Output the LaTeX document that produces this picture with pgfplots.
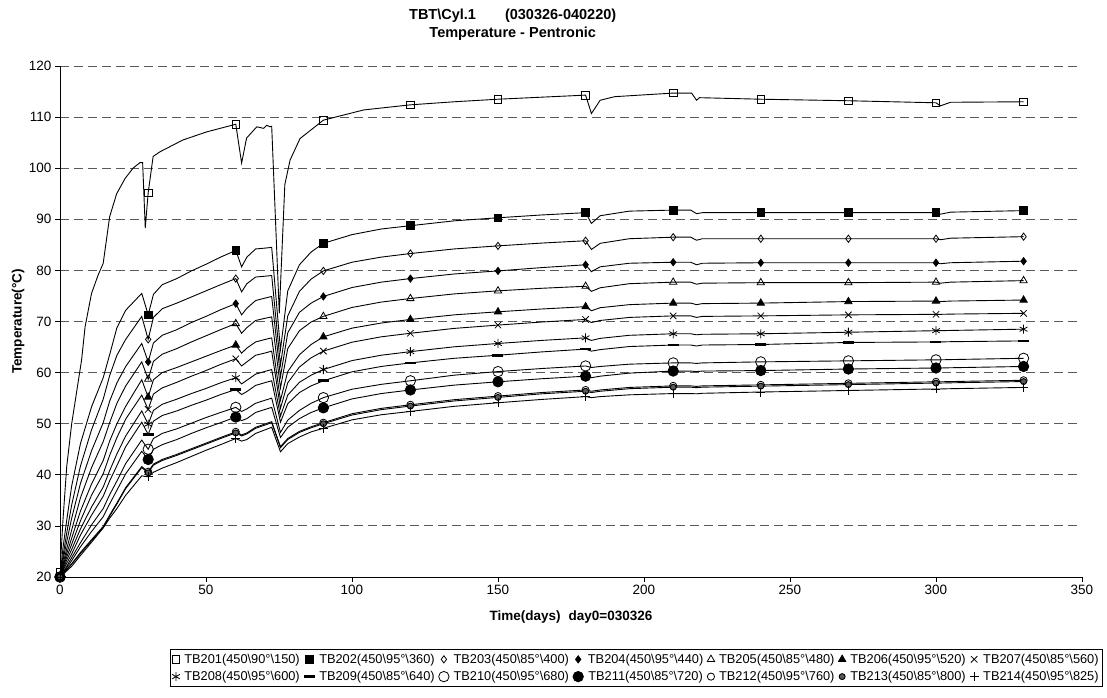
\documentclass[border=0pt]{standalone}
\usepackage{pgfplots}
\pgfplotsset{compat=1.18}
\usepackage{pgfplotstable}
\usepackage{fontspec}
\setmainfont{Liberation Sans}
\begin{document}
\pgfplotstableread{
d t202 t203 t204 t205 t206 t207 t208 t209 t210 t211 t212 t213 t214
0 20 20 20 20 20 20 20 20 20 20 20 20 20
1 25.6 24.0 23.2 22.5 22.1 21.8 21.5 21.2 20.9 20.8 20.6 20.6 20.5
2.3 31.1 28.6 26.9 25.5 24.6 23.9 23.3 22.7 22.1 21.8 21.5 21.4 21.2
4 37.8 34.1 31.5 29.2 27.6 26.4 25.4 24.5 23.8 23.2 22.6 22.5 22.1
7 46.1 41.7 38.3 35.5 32.9 31.0 29.4 28.2 26.7 25.9 24.8 24.6 24.2
10.8 53.3 48.8 44.7 41.4 38.2 36.0 33.7 32.1 30.2 28.9 27.3 27.1 26.8
14.8 59.0 54.8 50.2 46.5 42.8 40.2 37.6 35.8 33.4 31.8 29.9 29.7 29.6
17 63.5 59.4 54.4 50.2 46.6 43.8 40.8 38.8 36.1 34.3 32.1 31.9 31.5
19.5 68.8 63.4 58.0 54.0 50.0 47.3 44.1 41.8 38.8 37.0 34.5 34.3 33.4
22.5 72.2 66.5 61.2 57.4 53.4 50.9 47.6 45.5 42.2 40.2 37.5 37.3 36.0
28 75.5 71.0 65.7 62.1 58.6 55.6 52.5 50.3 46.8 44.6 41.6 41.4 39.8
30.2 71.3 66.5 62.1 58.7 55.2 52.8 49.9 47.9 45.0 43.0 40.6 40.4 39.6
32 75.3 70.8 65.8 62.2 58.6 55.8 52.6 50.5 47.1 45.0 42.1 41.9 40.5
35 77.2 72.5 67.3 63.6 60.0 57.0 53.8 51.6 48.1 45.9 43.0 42.8 41.3
40 78.4 73.6 68.4 64.7 61.0 58.1 54.8 52.5 49.0 46.9 44.0 43.8 42.4
45 79.9 74.8 69.8 66.0 62.1 59.3 55.9 53.6 50.1 48.1 45.1 44.9 43.6
50 81.2 76.0 71.0 67.2 63.2 60.4 56.9 54.6 51.2 49.2 46.2 46.0 44.8
55 82.6 77.2 72.3 68.4 64.3 61.6 58.0 55.7 52.2 50.2 47.3 47.1 45.9
60.2 83.9 78.4 73.5 69.6 65.4 62.7 59.0 56.7 53.2 51.3 48.4 48.2 47.1
62.2 80.7 75.8 71.3 67.7 63.8 61.3 57.8 55.7 52.4 50.6 47.8 47.6 46.6
64 82.6 77.4 72.6 68.8 64.8 62.1 58.5 56.3 52.9 51.0 48.2 48.0 46.9
67 84.2 78.7 74.1 70.2 66.0 63.4 59.7 57.5 54.0 52.2 49.3 49.1 48.1
70 84.35 78.85 74.55 70.6 66.45 63.8 60.2 58.0 54.55 52.75 49.9 49.7 48.75
72.5 84.5 79.0 74.9 70.9 66.8 64.2 60.6 58.4 55.0 53.2 50.4 50.2 49.3
75.5 64.5 61.5 59.2 57.0 54.6 53.0 51.5 50.3 48.3 47.3 45.5 45.3 44.5
78 76.0 71.1 67.8 64.7 60.2 58.0 55.6 53.9 50.7 49.3 47.1 46.9 46.1
82 81.1 75.9 71.8 68.2 63.5 61.1 58.1 56.1 52.6 51.0 48.5 48.3 47.4
86 83.6 78.3 73.6 69.9 65.5 62.9 59.5 57.4 54.0 52.2 49.4 49.2 48.4
90.2 85.3 79.9 74.9 71.0 67.0 64.2 60.6 58.4 55.1 53.1 50.2 50.0 49.1
100 87.0 81.6 76.65 72.75 68.7 65.95 62.35 60.15 56.75 54.85 51.95 51.7 50.75
110 88.1 82.6 77.7 73.8 69.7 67.0 63.4 61.2 57.7 55.9 53.0 52.75 51.75
120 88.75 83.3 78.4 74.5 70.4 67.7 64.1 61.9 58.4 56.6 53.7 53.45 52.4
135 89.7 84.2 79.3 75.4 71.3 68.65 65.05 62.8 59.5 57.55 54.7 54.45 53.4
150 90.3 84.8 79.9 76.0 71.9 69.3 65.7 63.4 60.2 58.2 55.4 55.15 54.1
165 90.85 85.35 80.55 76.5 72.45 69.9 66.3 64.05 60.8 58.8 56.1 55.85 54.75
180 91.3 85.8 81.1 76.9 72.9 70.4 66.8 64.6 61.3 59.3 56.6 56.35 55.3
182 89.2 84.1 79.75 75.9 72.1 69.8 66.3 64.2 61.0 59.0 56.35 56.1 55.1
185 90.7 85.3 80.7 76.6 72.7 70.2 66.7 64.5 61.2 59.3 56.6 56.35 55.3
195 91.6 86.2 81.4 77.4 73.3 70.8 67.3 65.1 61.65 59.9 57.1 56.85 55.65
210 91.8 86.5 81.6 77.7 73.6 71.1 67.6 65.4 61.9 60.3 57.4 57.15 55.9
216 91.8 86.5 81.6 77.7 73.6 71.1 67.6 65.4 61.9 60.3 57.4 57.15 55.9
218 91.1 85.9 81.1 77.3 73.3 70.8 67.4 65.2 61.8 60.2 57.3 57.05 55.85
220 91.3 86.2 81.4 77.5 73.5 71.0 67.5 65.4 61.9 60.3 57.4 57.15 55.95
240 91.3 86.2 81.5 77.6 73.6 71.1 67.6 65.5 62.1 60.4 57.6 57.35 56.2
270 91.3 86.2 81.5 77.6 73.9 71.3 67.9 65.9 62.3 60.7 57.9 57.65 56.5
300 91.3 86.2 81.5 77.7 74.0 71.4 68.2 66.0 62.5 60.9 58.2 57.95 56.8
301.5 91.0 86.0 81.3 77.5 73.9 71.4 68.2 66.0 62.5 60.9 58.2 57.95 56.8
305 91.4 86.3 81.5 77.7 74.0 71.45 68.25 66.05 62.55 60.95 58.25 58.0 56.85
330 91.7 86.6 81.8 78.0 74.2 71.6 68.5 66.2 62.8 61.2 58.5 58.25 57.1
}\datA
\begin{tikzpicture}[x=1pt,y=1pt]
\path[use as bounding box] (0,0) rectangle (1107,697);
\begin{axis}[
  at={(60pt,120pt)}, anchor=south west,
  width=1022pt, height=511pt, scale only axis,
  xmin=0, xmax=350, ymin=20, ymax=120,
  xtick={0,50,...,350}, ytick={20,30,...,120},
  axis lines*=left,
  axis line style={black, line width=0.9pt},
  tick align=outside, major tick length=5pt,
  tick style={black, line width=0.8pt},
  xtick pos=bottom, ytick pos=left,
  /pgf/number format/assume math mode=true,
  tick label style={font=\fontsize{13.5}{15}\selectfont},
  ymajorgrids,
  major grid style={black!65, line width=0.9pt, dash pattern=on 9pt off 5pt},
  title={\textbf{TBT\textbackslash Cyl.1\hspace{2em}(030326-040220)}\\\textbf{Temperature - Pentronic}},
  title style={at={(axis description cs:0.443,1)}, anchor=center, yshift=35pt, align=center, font=\fontsize{14.5}{18.5}\selectfont},
  xlabel={\textbf{Time(days)\hspace{0.6em}day0=030326}},
  xlabel style={at={(axis description cs:0.5,-0.078)}, anchor=center, font=\fontsize{13.5}{15}\selectfont},
  ylabel={\textbf{Temperature(°C)}},
  ylabel style={at={(axis description cs:-0.041,0.5)}, anchor=center, font=\fontsize{13.5}{15}\selectfont},
  legend columns=7,
  legend image code/.code={\draw[#1,only marks] plot coordinates {(5pt,0pt)};},
  legend style={at={(axis description cs:1.0206,-0.141)}, anchor=north east,
    draw=black, line width=0.8pt, font=\fontsize{12.8}{15}\selectfont,
    inner xsep=2pt, inner ysep=2.5pt, row sep=2.5pt,
    /tikz/every odd column/.append style={column sep=2.5pt},
    /tikz/every even column/.append style={column sep=2pt}},
  every axis plot/.append style={black, line width=0.9pt, mark options={solid, line width=0.8pt}},
]
\addplot[mark=square, mark size=3.8pt, mark indices={1,18,23,35,37,39,41,45,49,50,51,54}] coordinates {
(0,21)(1,31)(2.3,41.6)(4,50)(5.5,55.5)(7.4,62.5)(8.6,69)(10.8,75.5)(13,79)(14.8,81.4)(17,90.5)(19.4,95)(22.3,98)(25,100)(27.4,101.1)(28.3,101.1)(29.2,88.3)(30.2,95.2)(31.9,102.3)(34.2,103.2)(42,105.5)(50.2,107.1)(60.2,108.6)(62.2,101)(63.9,105.9)(67.4,108.1)(69.7,107.8)(70.8,108.4)(71.9,108.1)(72.5,108.2)(75.1,71.6)(77,96.8)(78.8,101.6)(82.2,105.8)(90.2,109.4)(104,111.4)(120,112.4)(135,113.0)(150,113.5)(165,113.9)(180,114.3)(182,110.7)(185,113.3)(190,114.0)(210,114.7)(216.3,114.7)(218,113.3)(219,113.8)(240,113.5)(270,113.2)(300,112.8)(301.5,112.2)(305,112.9)(330,113.0)};
\addlegendentry{TB201(450\textbackslash 90°\textbackslash 150)}
\pgfplotsset{mi/.style={mark indices={1,12,19,29,32,34,36,40,44,45,46,49}}}
\addplot[mi, mark=square*, mark size=3.8pt] table[x=d,y=t202] {\datA};
\addlegendentry{TB202(450\textbackslash 95°\textbackslash 360)}
\addplot[mi, mark=diamond, mark size=3.6pt] table[x=d,y=t203] {\datA};
\addlegendentry{TB203(450\textbackslash 85°\textbackslash 400)}
\addplot[mi, mark=diamond*, mark size=3.6pt] table[x=d,y=t204] {\datA};
\addlegendentry{TB204(450\textbackslash 95°\textbackslash 440)}
\addplot[mi, mark=triangle, mark size=4.2pt] table[x=d,y=t205] {\datA};
\addlegendentry{TB205(450\textbackslash 85°\textbackslash 480)}
\addplot[mi, mark=triangle*, mark size=4.2pt] table[x=d,y=t206] {\datA};
\addlegendentry{TB206(450\textbackslash 95°\textbackslash 520)}
\addplot[mi, mark=x, mark size=4.5pt] table[x=d,y=t207] {\datA};
\addlegendentry{TB207(450\textbackslash 85°\textbackslash 560)}
\addplot[mi, mark=asterisk, mark size=4.5pt] table[x=d,y=t208] {\datA};
\addlegendentry{TB208(450\textbackslash 95°\textbackslash 600)}
\addplot[mi, mark=-, mark size=5.5pt, mark options={line width=2.6pt}] table[x=d,y=t209] {\datA};
\addlegendentry{TB209(450\textbackslash 85°\textbackslash 640)}
\addplot[mi, mark=o, mark size=5.2pt] table[x=d,y=t210] {\datA};
\addlegendentry{TB210(450\textbackslash 95°\textbackslash 680)}
\addplot[mi, mark=*, mark size=5.2pt] table[x=d,y=t211] {\datA};
\addlegendentry{TB211(450\textbackslash 85°\textbackslash 720)}
\addplot[mi, mark=o, mark size=3.6pt] table[x=d,y=t212] {\datA};
\addlegendentry{TB212(450\textbackslash 95°\textbackslash 760)}
\addplot[mi, mark=*, mark size=3pt, mark options={fill=black!65}] table[x=d,y=t213] {\datA};
\addlegendentry{TB213(450\textbackslash 85°\textbackslash 800)}
\addplot[mi, mark=+, mark size=4.5pt] table[x=d,y=t214] {\datA};
\addlegendentry{TB214(450\textbackslash 95°\textbackslash 825)}
\draw[black, line width=0.9pt] (rel axis cs:1,0) -- (rel axis cs:1,1);
\end{axis}
\end{tikzpicture}
\end{document}
